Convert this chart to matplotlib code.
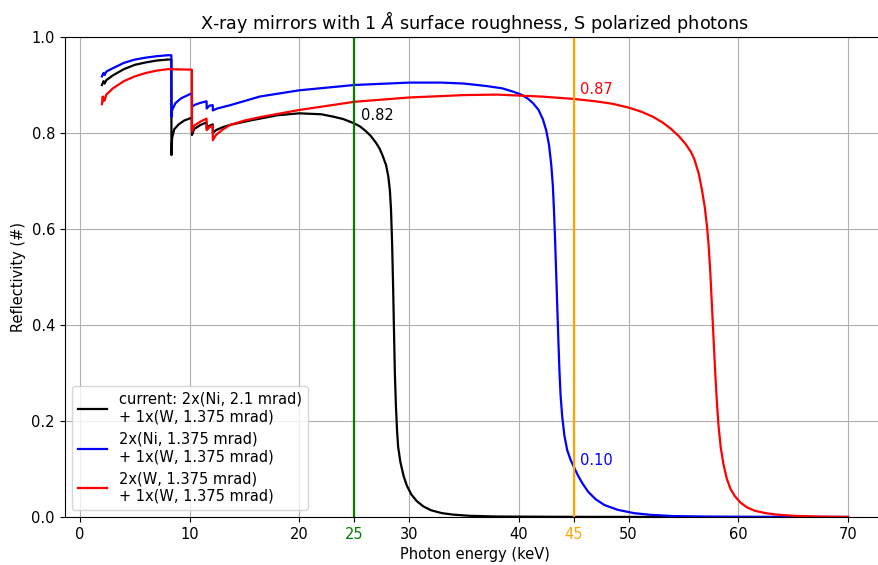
import numpy as np
import matplotlib
matplotlib.use('Agg')
import matplotlib.pyplot as plt

plt.rcParams['font.size'] = 10.56
plt.rcParams['lines.linewidth'] = 1.6

# photon energy (keV) and reflectivity
# current: 2x(Ni, 2.1 mrad) + 1x(W, 1.375 mrad)
e_black = [2.0, 2.15, 2.25, 2.4, 3.0, 4.0, 5.0, 6.0, 7.0, 8.0, 8.33,
           8.34, 8.4, 8.6, 9.0, 9.5, 10.2,
           10.21, 10.4, 11.0, 11.54,
           11.55, 11.8, 12.1,
           12.11, 12.4, 13.0, 13.7, 15.5, 18.0, 20.0, 22.0, 23.1, 24.0, 25.0,
           25.5, 26.0, 26.5, 27.0, 27.3, 27.6, 27.9, 28.1, 28.25, 28.35, 28.45,
           28.55, 28.62, 28.7, 28.8, 28.9, 29.0, 29.2, 29.5, 29.8, 30.2, 30.7,
           31.3, 32.0, 33.0, 34.0, 35.5, 38.0, 45.0, 55.0, 70.0]
r_black = [0.900, 0.908, 0.903, 0.910, 0.920, 0.933, 0.942, 0.947, 0.951, 0.953, 0.953,
           0.754, 0.790, 0.808, 0.818, 0.826, 0.832,
           0.796, 0.808, 0.817, 0.822,
           0.809, 0.815, 0.818,
           0.800, 0.806, 0.812, 0.817, 0.826, 0.837, 0.841, 0.839, 0.834, 0.829, 0.820,
           0.814, 0.805, 0.794, 0.779, 0.768, 0.752, 0.733, 0.710, 0.680, 0.640, 0.570,
           0.470, 0.390, 0.300, 0.230, 0.180, 0.146, 0.115, 0.085, 0.065, 0.047, 0.033,
           0.022, 0.014, 0.008, 0.005, 0.0025, 0.001, 0.0003, 0.0001, 0.0]

# 2x(Ni, 1.375 mrad) + 1x(W, 1.375 mrad)
e_blue = [2.0, 2.15, 2.25, 2.4, 3.0, 4.0, 5.0, 6.0, 7.0, 8.0, 8.33,
          8.34, 8.4, 8.7, 9.2, 10.2,
          10.21, 10.5, 11.0, 11.54,
          11.55, 11.8, 12.1,
          12.11, 12.5, 13.7, 16.4, 20.0, 25.0, 30.0, 33.0, 35.0, 37.0, 38.5,
          39.5, 40.2, 40.8, 41.3, 41.8, 42.2, 42.5, 42.75, 42.95, 43.1, 43.2,
          43.3, 43.4, 43.5, 43.6, 43.7, 43.8, 43.95, 44.15, 44.4, 44.7, 45.0,
          45.4, 45.8, 46.3, 47.0, 47.8, 49.0, 50.5, 52.0, 54.0, 57.0, 62.0, 70.0]
r_blue = [0.918, 0.925, 0.921, 0.928, 0.935, 0.946, 0.953, 0.957, 0.960, 0.962, 0.962,
          0.834, 0.848, 0.862, 0.872, 0.883,
          0.855, 0.859, 0.863, 0.866,
          0.851, 0.857, 0.858,
          0.847, 0.851, 0.858, 0.876, 0.889, 0.900, 0.905, 0.905, 0.903, 0.898, 0.893,
          0.886, 0.880, 0.872, 0.862, 0.848, 0.828, 0.805, 0.775, 0.735, 0.690, 0.640,
          0.580, 0.510, 0.440, 0.370, 0.305, 0.255, 0.210, 0.170, 0.140, 0.120, 0.105,
          0.086, 0.070, 0.053, 0.037, 0.025, 0.015, 0.008, 0.0045, 0.002, 0.0008, 0.0002, 0.0]

# 2x(W, 1.375 mrad) + 1x(W, 1.375 mrad)
e_red = [2.0, 2.08, 2.12, 2.2, 2.25, 2.4, 3.0, 4.0, 5.0, 6.0, 7.0, 8.0, 10.2,
         10.21, 10.4, 11.0, 11.54,
         11.55, 11.8, 12.1,
         12.11, 12.4, 13.0, 13.7, 15.0, 16.4, 20.0, 25.0, 30.0, 35.0, 38.0,
         40.0, 42.0, 45.0, 47.0, 48.5, 50.0, 51.2, 52.2, 53.1, 53.9, 54.6,
         55.2, 55.7, 56.0, 56.4, 56.7, 56.95, 57.15, 57.3, 57.45, 57.6, 57.75,
         57.9, 58.05, 58.2, 58.4, 58.65, 58.95, 59.3, 59.7, 60.2, 60.8, 61.5,
         62.5, 63.5, 65.0, 67.0, 70.0]
r_red = [0.860, 0.876, 0.866, 0.872, 0.868, 0.880, 0.893, 0.908, 0.918, 0.925, 0.930, 0.933, 0.932,
         0.803, 0.815, 0.824, 0.830,
         0.806, 0.812, 0.815,
         0.785, 0.796, 0.807, 0.817, 0.826, 0.833, 0.848, 0.865, 0.874, 0.879, 0.880,
         0.878, 0.876, 0.871, 0.866, 0.861, 0.853, 0.844, 0.834, 0.822, 0.808, 0.793,
         0.777, 0.760, 0.745, 0.715, 0.680, 0.645, 0.605, 0.565, 0.510, 0.440, 0.370,
         0.300, 0.240, 0.190, 0.145, 0.110, 0.080, 0.058, 0.043, 0.030, 0.020, 0.013,
         0.008, 0.005, 0.0025, 0.001, 0.0]

labels = ['current: 2x(Ni, 2.1 mrad)\n+ 1x(W, 1.375 mrad)',
          '2x(Ni, 1.375 mrad)\n+ 1x(W, 1.375 mrad)',
          '2x(W, 1.375 mrad)\n+ 1x(W, 1.375 mrad)']

fig = plt.figure(figsize=(8.79, 5.65), dpi=100)
# right spine falls just outside the picture, as in the reference
ax = fig.add_axes([64.6/879, 48/565, 820.7/879, 480/565])

ax.plot(e_black, r_black, color='black', label=labels[0])
ax.plot(e_blue, r_blue, color='blue', label=labels[1])
ax.plot(e_red, r_red, color='red', label=labels[2])

ax.axvline(25, color='green')
ax.axvline(45, color='orange')

# values at the two marked energies
ax.text(25.6, 0.8375, '0.82', color='black', va='center')
ax.text(45.6, 0.89, '0.87', color='red', va='center')
ax.text(45.6, 0.117, '0.10', color='blue', va='center')

ax.set_ylim(0, 1)
ax.set_xticks([0, 10, 20, 25, 30, 40, 45, 50, 60, 70])
for lab in ax.get_xticklabels():
    if lab.get_text() == '25':
        lab.set_color('green')
    elif lab.get_text() == '45':
        lab.set_color('orange')

ax.grid(True)
ax.set_xlabel('Photon energy (keV)')
ax.set_ylabel('Reflectivity (#)')
ax.set_title(r'X-ray mirrors with 1 $\AA$ surface roughness, S polarized photons')
ax.legend(loc='lower left')

fig.savefig('out.png', dpi=100)
